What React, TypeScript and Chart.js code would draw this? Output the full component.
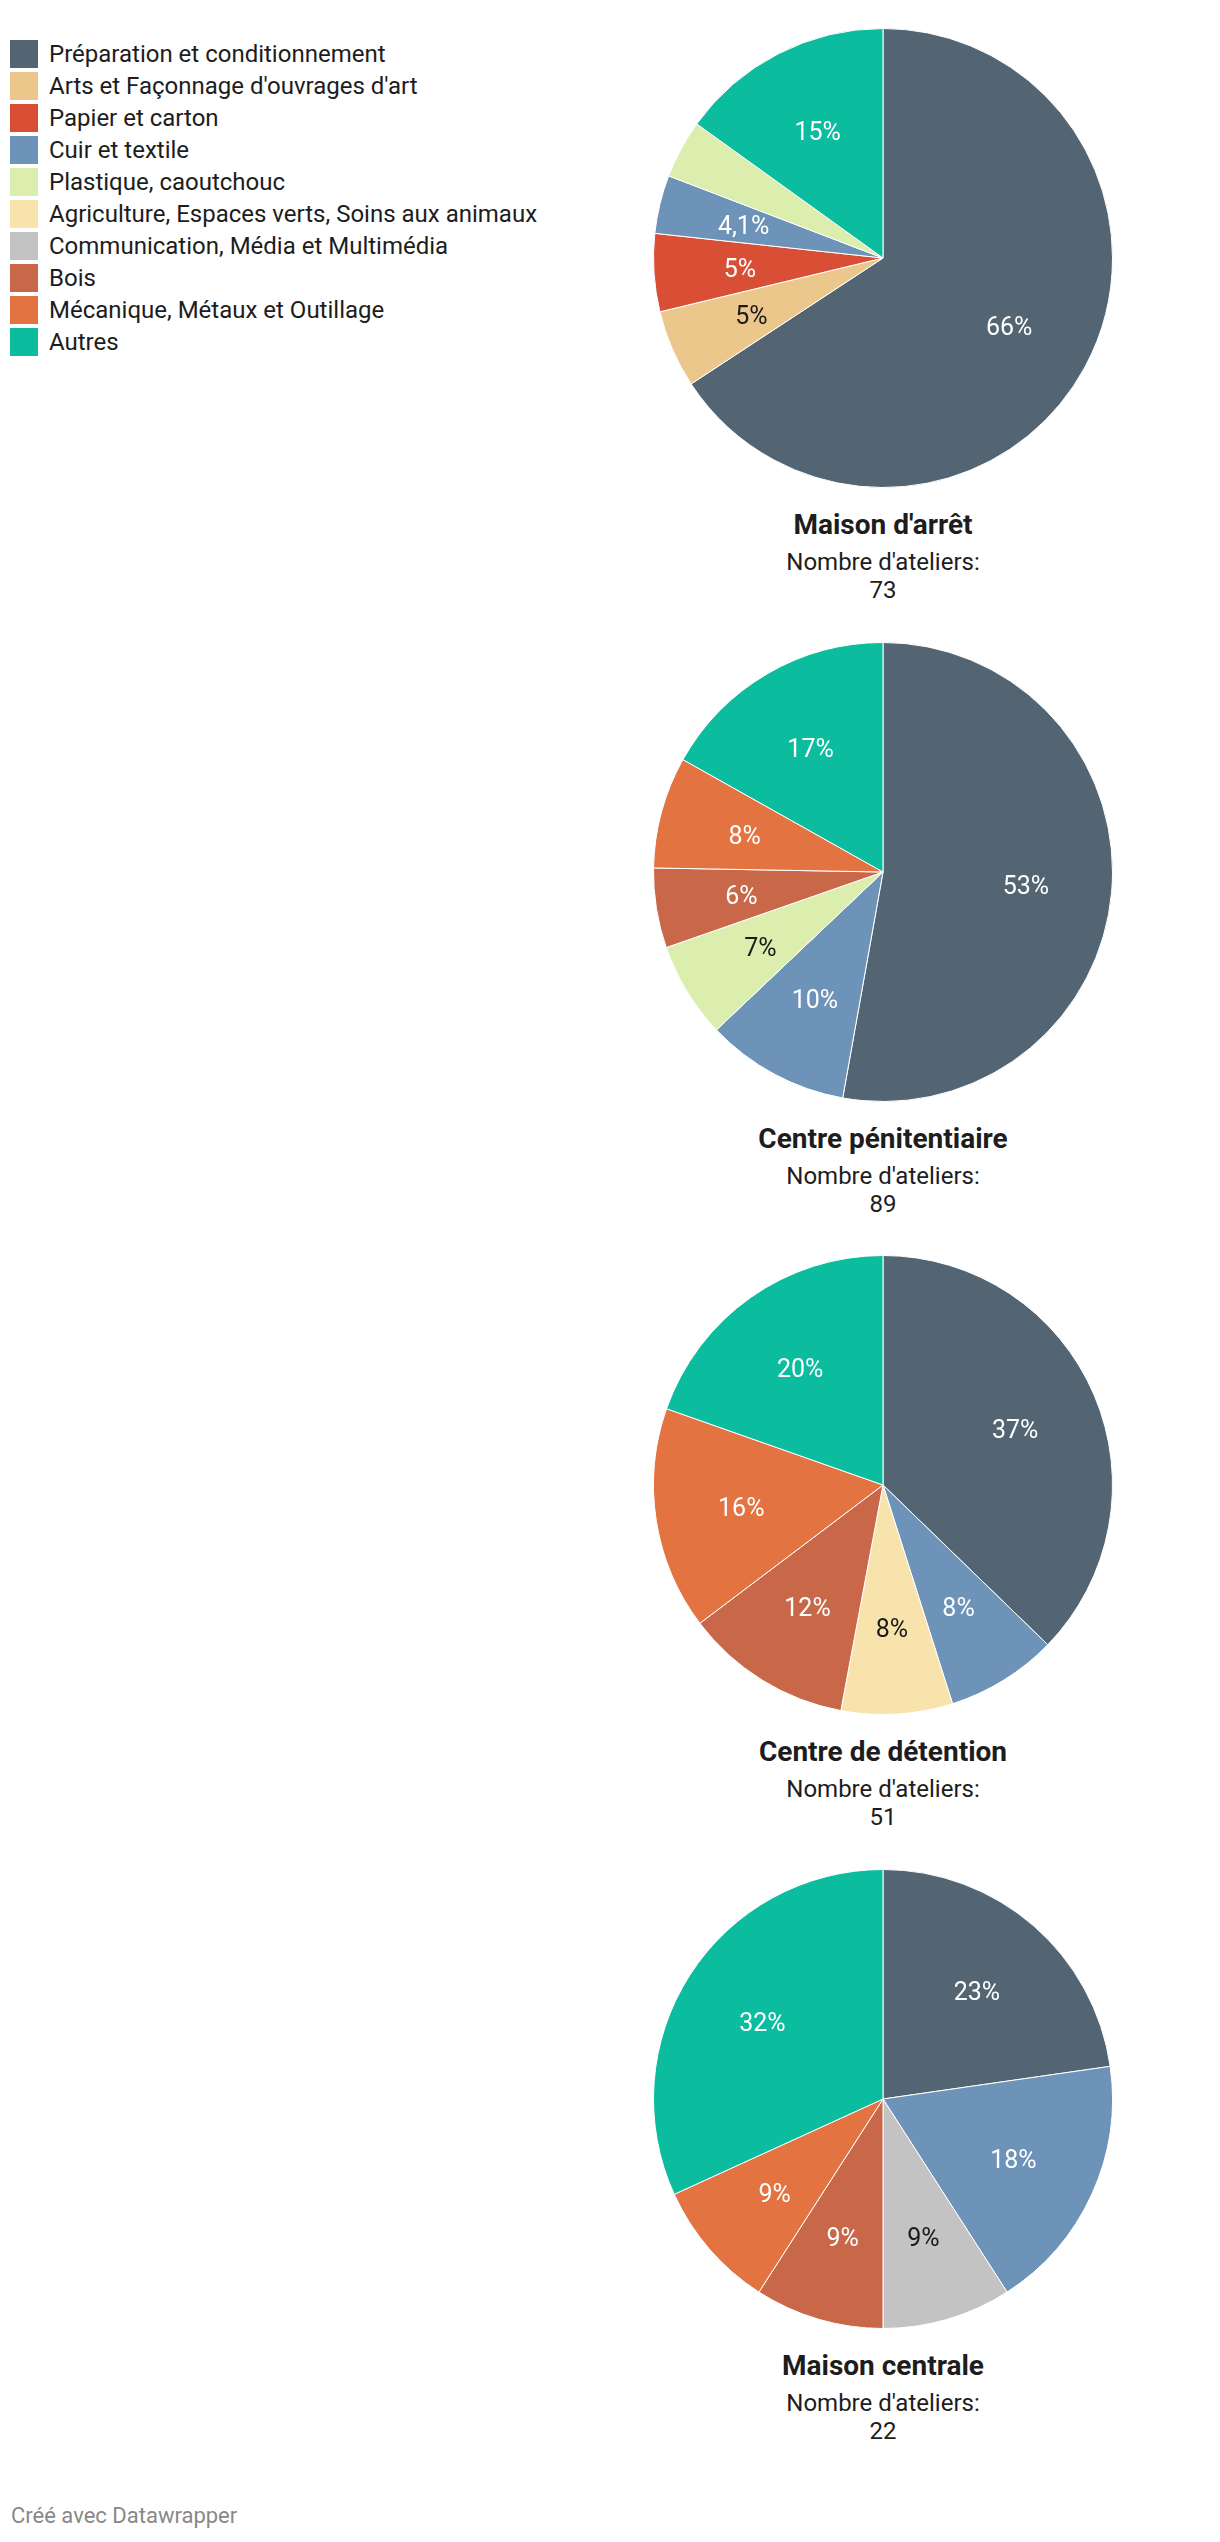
import React, { useEffect, useRef } from "react";
import { Chart, registerables } from "chart.js";

Chart.register(...registerables);

const categories = [
  "Préparation et conditionnement",
  "Arts et Façonnage d'ouvrages d'art",
  "Papier et carton",
  "Cuir et textile",
  "Plastique, caoutchouc",
  "Agriculture, Espaces verts, Soins aux animaux",
  "Communication, Média et Multimédia",
  "Bois",
  "Mécanique, Métaux et Outillage",
  "Autres",
];

const colors = [
  "#536573",
  "#ebc78c",
  "#d94f35",
  "#6d94b8",
  "#dbeeae",
  "#f8e3ac",
  "#c3c3c3",
  "#c96849",
  "#e37340",
  "#0bbc9e",
];

const darkLabelCategories = [1, 4, 5, 6];

const establishments = ["Maison d'arrêt", "Centre pénitentiaire", "Centre de détention", "Maison centrale"];
const workshopTotals = [73, 89, 51, 22];

const maisonArret = [48, 4, 4, 3, 3, 0, 0, 0, 0, 11];
const centrePenitentiaire = [47, 0, 0, 9, 6, 0, 0, 5, 7, 15];
const centreDetention = [19, 0, 0, 4, 0, 4, 0, 6, 8, 10];
const maisonCentrale = [5, 0, 0, 4, 0, 0, 2, 2, 2, 7];

const labelsMaisonArret = ["66%", "5%", "5%", "4,1%", "", "", "", "", "", "15%"];
const labelsCentrePenitentiaire = ["53%", "", "", "10%", "7%", "", "", "6%", "8%", "17%"];
const labelsCentreDetention = ["37%", "", "", "8%", "", "8%", "", "12%", "16%", "20%"];
const labelsMaisonCentrale = ["23%", "", "", "18%", "", "", "9%", "9%", "9%", "32%"];

const seriesValues = [maisonArret, centrePenitentiaire, centreDetention, maisonCentrale];
const seriesLabels = [labelsMaisonArret, labelsCentrePenitentiaire, labelsCentreDetention, labelsMaisonCentrale];

const FONT = "Roboto, 'Noto Sans', sans-serif";
const PIE_CENTERS_Y = [258, 872, 1485, 2099];
const PIE_CX = 883;
const CANVAS = 460;

const sliceLabelPlugin = {
  id: "sliceLabels",
  afterDatasetsDraw(chart: any) {
    const labels: string[] = chart.options.plugins.sliceLabels.labels;
    const meta = chart.getDatasetMeta(0);
    const ctx = chart.ctx;
    ctx.save();
    ctx.font = `25px ${FONT}`;
    ctx.textAlign = "center";
    ctx.textBaseline = "middle";
    meta.data.forEach((arc: any, i: number) => {
      const txt = labels[i];
      if (!txt) return;
      const p = arc.getProps(["startAngle", "endAngle", "outerRadius", "x", "y"], true);
      const mid = (p.startAngle + p.endAngle) / 2;
      const r = p.outerRadius * 0.625;
      ctx.fillStyle = darkLabelCategories.includes(i) ? "#1a1a1a" : "#ffffff";
      ctx.fillText(txt, p.x + Math.cos(mid) * r, p.y + Math.sin(mid) * r + 3);
    });
    ctx.restore();
  },
};

function PieChart({ values, labels }: { values: number[]; labels: string[] }) {
  const ref = useRef<HTMLCanvasElement | null>(null);
  useEffect(() => {
    if (!ref.current) return;
    const chart = new Chart(ref.current, {
      type: "pie",
      data: {
        labels: categories,
        datasets: [
          {
            data: values,
            backgroundColor: colors,
            borderColor: "#ffffff",
            borderWidth: 1,
          },
        ],
      },
      options: {
        responsive: false,
        animation: false,
        maintainAspectRatio: false,
        layout: { padding: 0 },
        plugins: {
          legend: { display: false },
          tooltip: { enabled: false },
          // @ts-ignore
          sliceLabels: { labels },
        },
      },
      plugins: [sliceLabelPlugin],
    });
    return () => chart.destroy();
  }, []);
  return <canvas ref={ref} width={CANVAS} height={CANVAS} style={{ width: CANVAS, height: CANVAS, display: "block" }} />;
}

export default function App() {
  const off = 8;
  return (
    <div style={{ position: "relative", width: 1204, height: 2526, fontFamily: FONT, color: "#1d1d1d" }}>
      {categories.map((c, i) => (
        <div key={c} style={{ position: "absolute", left: 10 - off, top: 40 + 32 * i - off, height: 28, display: "flex", alignItems: "center" }}>
          <div style={{ width: 28, height: 28, background: colors[i], flex: "none" }} />
          <span style={{ marginLeft: 11, fontSize: 24, whiteSpace: "nowrap", lineHeight: "28px" }}>{c}</span>
        </div>
      ))}
      {establishments.map((name, k) => {
        const cy = PIE_CENTERS_Y[k];
        return (
          <React.Fragment key={name}>
            <div style={{ position: "absolute", left: PIE_CX - CANVAS / 2 - off, top: cy - CANVAS / 2 - off }}>
              <PieChart values={seriesValues[k]} labels={seriesLabels[k]} />
            </div>
            <div style={{ position: "absolute", left: PIE_CX - 250 - off, width: 500, top: cy + 267 - 16 - off, textAlign: "center", fontWeight: 700, fontSize: 28, lineHeight: "32px" }}>
              {name}
            </div>
            <div style={{ position: "absolute", left: PIE_CX - 250 - off, width: 500, top: cy + 304 - 14 - off, textAlign: "center", fontSize: 24, lineHeight: "28px" }}>
              Nombre d'ateliers:
              <br />
              {workshopTotals[k]}
            </div>
          </React.Fragment>
        );
      })}
      <div style={{ position: "absolute", left: 11 - off, top: 2516 - 13 - off, fontSize: 22, lineHeight: "26px", color: "#888888" }}>
        Créé avec Datawrapper
      </div>
    </div>
  );
}
